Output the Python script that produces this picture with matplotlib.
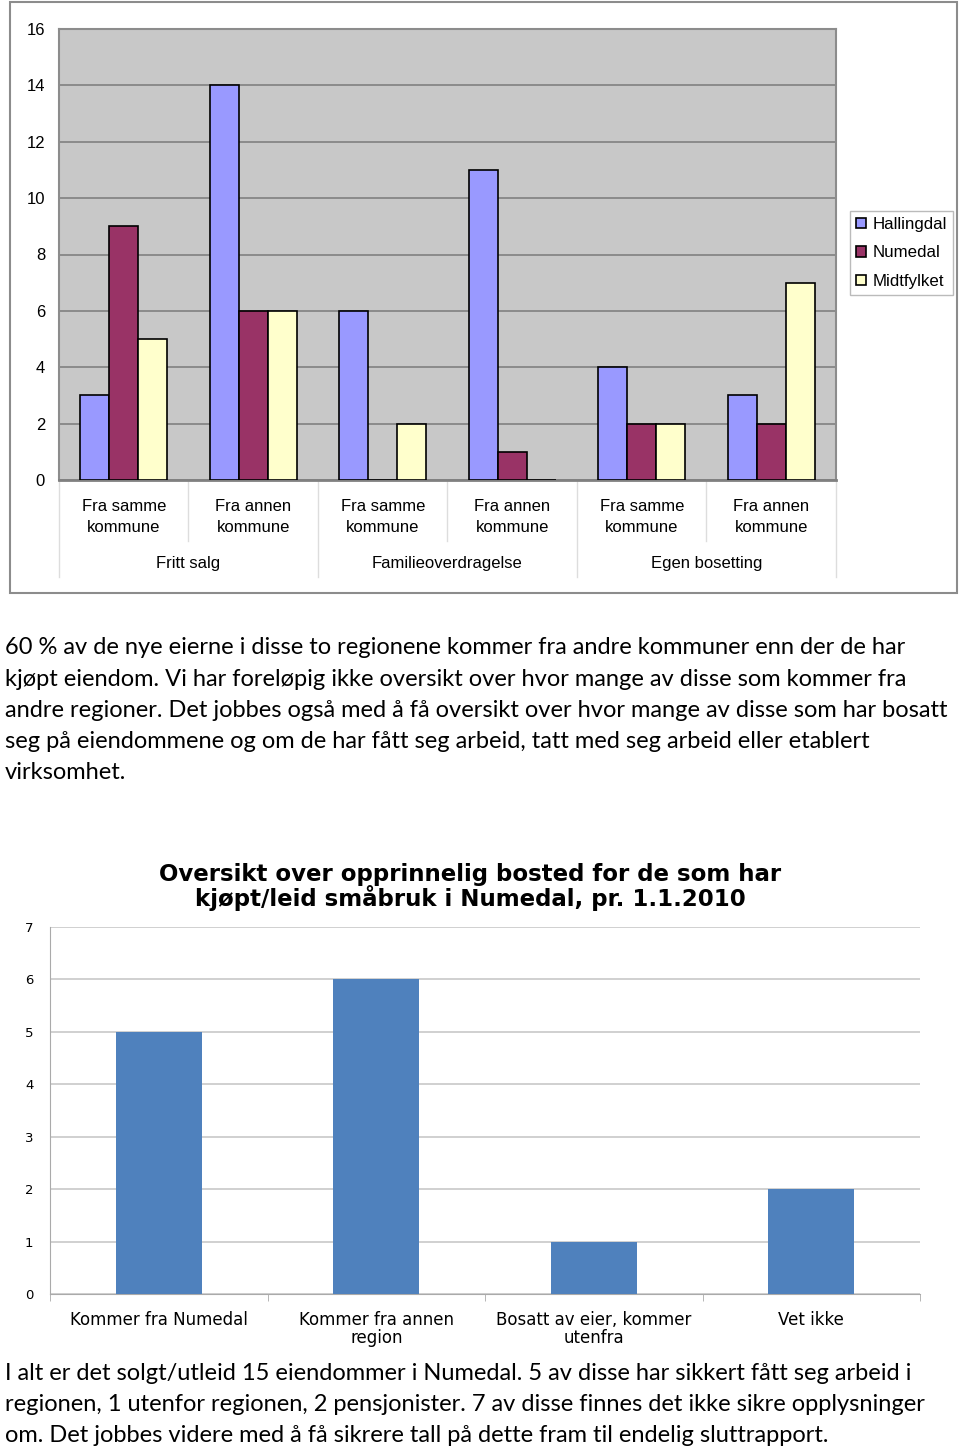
import numpy as np
import matplotlib.pyplot as plt
from matplotlib.patches import Rectangle
from matplotlib.transforms import blended_transform_factory

# chart 1 data
sub_labels = ["Fra samme\nkommune", "Fra annen\nkommune"] * 3
group_labels = ["Fritt salg", "Familieoverdragelse", "Egen bosetting"]
series_names = ["Hallingdal", "Numedal", "Midtfylket"]
hallingdal = [3, 14, 6, 11, 4, 3]
numedal = [9, 6, 0, 1, 2, 2]
midtfylket = [5, 6, 2, 0, 2, 7]
series_colors = ["#9999FF", "#993366", "#FFFFCC"]

# chart 2 data
num_title = "Oversikt over opprinnelig bosted for de som har\nkjøpt/leid småbruk i Numedal, pr. 1.1.2010"
num_labels = ["Kommer fra Numedal", "Kommer fra annen\nregion", "Bosatt av eier, kommer\nutenfra", "Vet ikke"]
num_values = [5, 6, 1, 2]

text1 = ["60 % av de nye eierne i disse to regionene kommer fra andre kommuner enn der de har",
         "kjøpt eiendom. Vi har foreløpig ikke oversikt over hvor mange av disse som kommer fra",
         "andre regioner. Det jobbes også med å få oversikt over hvor mange av disse som har bosatt",
         "seg på eiendommene og om de har fått seg arbeid, tatt med seg arbeid eller etablert",
         "virksomhet."]
text2 = ["I alt er det solgt/utleid 15 eiendommer i Numedal. 5 av disse har sikkert fått seg arbeid i",
         "regionen, 1 utenfor regionen, 2 pensjonister. 7 av disse finnes det ikke sikre opplysninger",
         "om. Det jobbes videre med å få sikrere tall på dette fram til endelig sluttrapport."]

plt.rcParams["font.family"] = ["Liberation Sans", "DejaVu Sans"]

W, H = 960, 1450
fig = plt.figure(figsize=(W / 100, H / 100), dpi=100)


def px_rect(x0, y0, x1, y1):
    return [x0 / W, 1 - y1 / H, (x1 - x0) / W, (y1 - y0) / H]


# ---------- chart 1 ----------
fig.patches.append(Rectangle((10 / W, 1 - 593 / H), 947 / W, 591 / H, transform=fig.transFigure,
                             facecolor="none", edgecolor="#8c8c8c", lw=1.5))
ax = fig.add_axes(px_rect(59, 29, 836, 480))
ax.set_facecolor("#C8C8C8")
x = np.arange(len(hallingdal))
w = 0.224
for i, (vals, name, col) in enumerate(zip([hallingdal, numedal, midtfylket], series_names, series_colors)):
    ax.bar(x + (i - 1) * w, vals, w, color=col, edgecolor="black", linewidth=1.2, label=name, zorder=3)
ax.set_xlim(-0.5, 5.5)
ax.set_ylim(0, 16)
ax.set_yticks(range(0, 17, 2))
ax.yaxis.grid(True, color="#808080", linewidth=1.2, zorder=0)
ax.tick_params(axis="y", labelsize=12, length=0, pad=10)
ax.tick_params(axis="x", length=0, pad=14)
ax.set_xticks(x)
ax.set_xticklabels(sub_labels, fontsize=12, linespacing=1.45)
for s in ["top", "right", "left"]:
    ax.spines[s].set_color("#8c8c8c")
    ax.spines[s].set_linewidth(1.5)
ax.spines["bottom"].set_color("#808080")
ax.spines["bottom"].set_linewidth(2)
tr = blended_transform_factory(ax.transData, ax.transAxes)
for k in range(7):
    depth = -0.215 if k % 2 == 0 else -0.135
    ax.plot([k - 0.5, k - 0.5], [0, depth], transform=tr, color="#dddddd", lw=1, clip_on=False)
for g, name in enumerate(group_labels):
    ax.text(2 * g + 0.5, -0.185, name, transform=tr, ha="center", va="center", fontsize=12)
ax.legend(loc="upper left", bbox_to_anchor=(850 / W, 1 - 211 / H), bbox_transform=fig.transFigure,
          prop={"size": 12.2}, fancybox=False, edgecolor="#aaaaaa",
          handlelength=0.6, handleheight=0.6, handletextpad=0.4, borderpad=0.35, labelspacing=0.8,
          borderaxespad=0)

# ---------- paragraph 1 ----------
for i, line in enumerate(text1):
    fig.text(5 / W, 1 - (648 + i * 31.2) / H, line, fontsize=17, family="Lato", va="center")

# ---------- chart 2 ----------
ax2 = fig.add_axes(px_rect(50, 927, 920, 1294))
x2 = np.arange(len(num_values))
ax2.bar(x2, num_values, 0.395, color="#4F81BD", zorder=3)
ax2.set_xlim(-0.5, 3.5)
ax2.set_ylim(0, 7)
ax2.set_yticks(range(8))
ax2.yaxis.grid(True, color="#c8c8c8", linewidth=1.2, zorder=0)
ax2.tick_params(axis="y", labelsize=9.5, length=0, pad=12)
ax2.set_xticks(x2)
ax2.set_xticklabels(num_labels, fontsize=12, linespacing=1.05)
ax2.tick_params(axis="x", length=0, pad=12)
ax2.set_xticks(np.arange(-0.5, 4, 1), minor=True)
ax2.tick_params(axis="x", which="minor", length=5, color="#aaaaaa")
for s in ["top", "right"]:
    ax2.spines[s].set_visible(False)
ax2.spines["left"].set_color("#aaaaaa")
ax2.spines["bottom"].set_color("#aaaaaa")
for lab in ax2.get_yticklabels() + ax2.get_xticklabels():
    lab.set_family("DejaVu Sans")
fig.text(470 / W, 1 - 887 / H, num_title, ha="center", va="center", fontsize=16.5,
         fontweight="bold", family="DejaVu Sans", linespacing=0.95)

# ---------- paragraph 2 ----------
for i, line in enumerate(text2):
    fig.text(5 / W, 1 - (1373 + i * 31.5) / H, line, fontsize=17, family="Lato", va="center")

fig.savefig("out.png", dpi=100)
